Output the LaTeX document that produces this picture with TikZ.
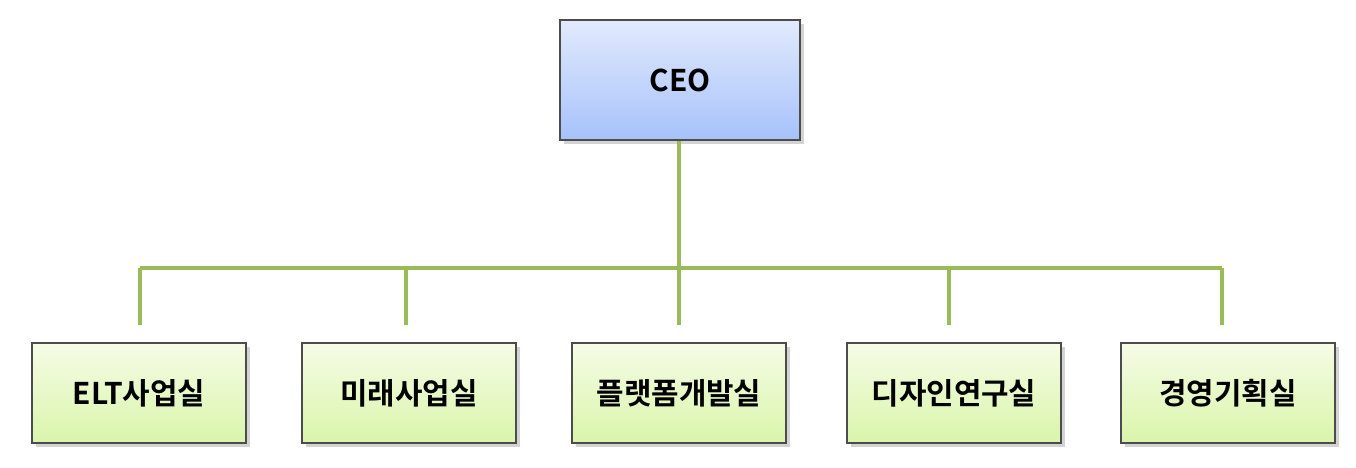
\documentclass[tikz,border=0pt]{standalone}
\usepackage{fontspec}
\newfontfamily\kfont{Noto Sans CJK KR Bold}
\usetikzlibrary{shadows}
\definecolor{linegreen}{HTML}{9BBB59}
\definecolor{ceotop}{HTML}{E2EAFD}
\definecolor{ceobot}{HTML}{A6C2FB}
\definecolor{deptop}{HTML}{F6FCE6}
\definecolor{depbot}{HTML}{D9F5AA}
\tikzset{
	ceobox/.style={draw=black!70, thin, minimum width=2.4cm, minimum height=1.2cm,
		top color=ceotop, bottom color=ceobot, drop shadow={opacity=0.35, shadow xshift=0.04cm, shadow yshift=-0.04cm},
		font=\kfont\fontsize{8.5}{10}\selectfont},
	deptbox/.style={draw=black!70, thin, minimum width=2.14cm, minimum height=1.0cm,
		top color=deptop, bottom color=depbot, drop shadow={opacity=0.35, shadow xshift=0.04cm, shadow yshift=-0.04cm},
		font=\kfont\fontsize{8.5}{10}\selectfont},
	link/.style={draw=linegreen, line width=1.2pt}
}
\begin{document}
\begin{tikzpicture}
	\useasboundingbox (0,0) rectangle (13.56,-4.67);

	\node[ceobox] (ceo) at (6.80,-0.80) {CEO};

	\node[deptbox] (elt) at (1.39,-3.93) {ELT사업실};
	\node[deptbox] (future) at (4.09,-3.93) {미래사업실};
	\node[deptbox] (platform) at (6.79,-3.93) {플랫폼개발실};
	\node[deptbox] (design) at (9.54,-3.93) {디자인연구실};
	\node[deptbox] (plan) at (12.28,-3.93) {경영기획실};

	% branch points
	\coordinate (hub) at (6.79,-2.68);
	\coordinate (left) at (1.40,-2.68);
	\coordinate (right) at (12.22,-2.68);
	\foreach \d/\x in {elt/1.40, future/4.06, platform/6.79, design/9.49, plan/12.22}
	{
		\coordinate (\d top) at (\x,-2.68);
		\coordinate (\d end) at (\x,-3.25);
		\draw[link] (\d top) -- (\d end);
	}
	\draw[link] (ceo.south -| hub) -- (hub);
	\draw[link] (left) -- (right);
\end{tikzpicture}
\end{document}
